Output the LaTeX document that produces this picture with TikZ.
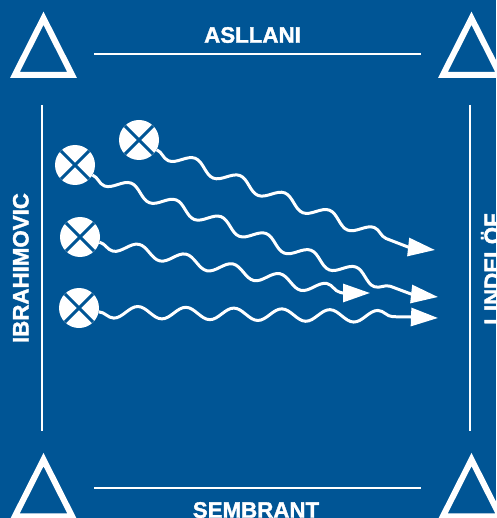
\documentclass[tikz,border=0pt]{standalone}
\usepackage{fontspec}
\setmainfont{Liberation Sans}
\newfontfamily\namefont[FakeBold=1.6]{Liberation Sans Bold}
\usetikzlibrary{decorations.pathmorphing, arrows.meta}
\definecolor{pitch}{RGB}{0,85,149}

\begin{document}
\begin{tikzpicture}[x=1pt, y=-1pt,
  sidename/.style={text=white, font=\namefont\fontsize{22.3}{24}\selectfont, inner sep=0pt, anchor=base},
  rule/.style={draw=white, line width=2.6pt},
  goal/.style={draw=white, line width=6pt, line join=miter},
  player/.style={circle, fill=white, minimum size=40pt, inner sep=0pt,
    path picture={\draw[pitch, line width=3pt]
      (path picture bounding box.north west) -- (path picture bounding box.south east)
      (path picture bounding box.north east) -- (path picture bounding box.south west);}},
  run/.style={draw=white, line width=3pt, -{Triangle[length=27pt, width=18pt]},
    decoration={snake, segment length=48pt, amplitude=6pt, mirror}}
]
% pitch background
\useasboundingbox (0,0) rectangle (496,518);
\fill[pitch] (0,0) rectangle (496,518);

% corner triangles
\draw[goal] (14.9,75) -- (43.5,18.3) -- (72.1,75) -- cycle;
\draw[goal] (442.9,75) -- (471.5,18.3) -- (500.1,75) -- cycle;
\draw[goal] (14.9,516.3) -- (43.5,459.6) -- (72.1,516.3) -- cycle;
\draw[goal] (442.9,516.3) -- (471.5,459.6) -- (500.1,516.3) -- cycle;

% side lines
\draw[rule] (94,54) -- (421,54);
\draw[rule] (94,488) -- (421,488);
\draw[rule] (42,105) -- (42,431);
\draw[rule] (470,105) -- (470,431);

% side names
\node[sidename] (top) at (252.5,42.7) {ASLLANI};
\node[sidename] (bottom) at (256,517.7) {SEMBRANT};
\node[sidename, rotate=90] (left) at (28.5,268) {IBRAHIMOVIC};
\node[sidename, rotate=90] (right) at (500,269) {LINDELÖF};

% players
\node[player] (c1) at (139,140) {};
\node[player] (c2) at (75,165) {};
\node[player] (c3) at (80,237) {};
\node[player] (c4) at (79,308) {};

% arrow bases and tips
\coordinate (e1) at (408,247); \coordinate (t1) at (435,250);
\coordinate (e2) at (411,294); \coordinate (t2) at (438,297);
\coordinate (e3) at (343,293); \coordinate (t3) at (370,293);
\coordinate (e4) at (411,317); \coordinate (t4) at (438,318);

% runs
\draw[run] (c1.-29) decorate {-- (e1)} -- (t1);
\draw[run] (c2.-30) decorate {-- (e2)} -- (t2);
\draw[run] (c3.-15) decorate {-- (e3)} -- (t3);
\draw[run] (c4.-11) decorate {-- (e4)} -- (t4);
\end{tikzpicture}
\end{document}
